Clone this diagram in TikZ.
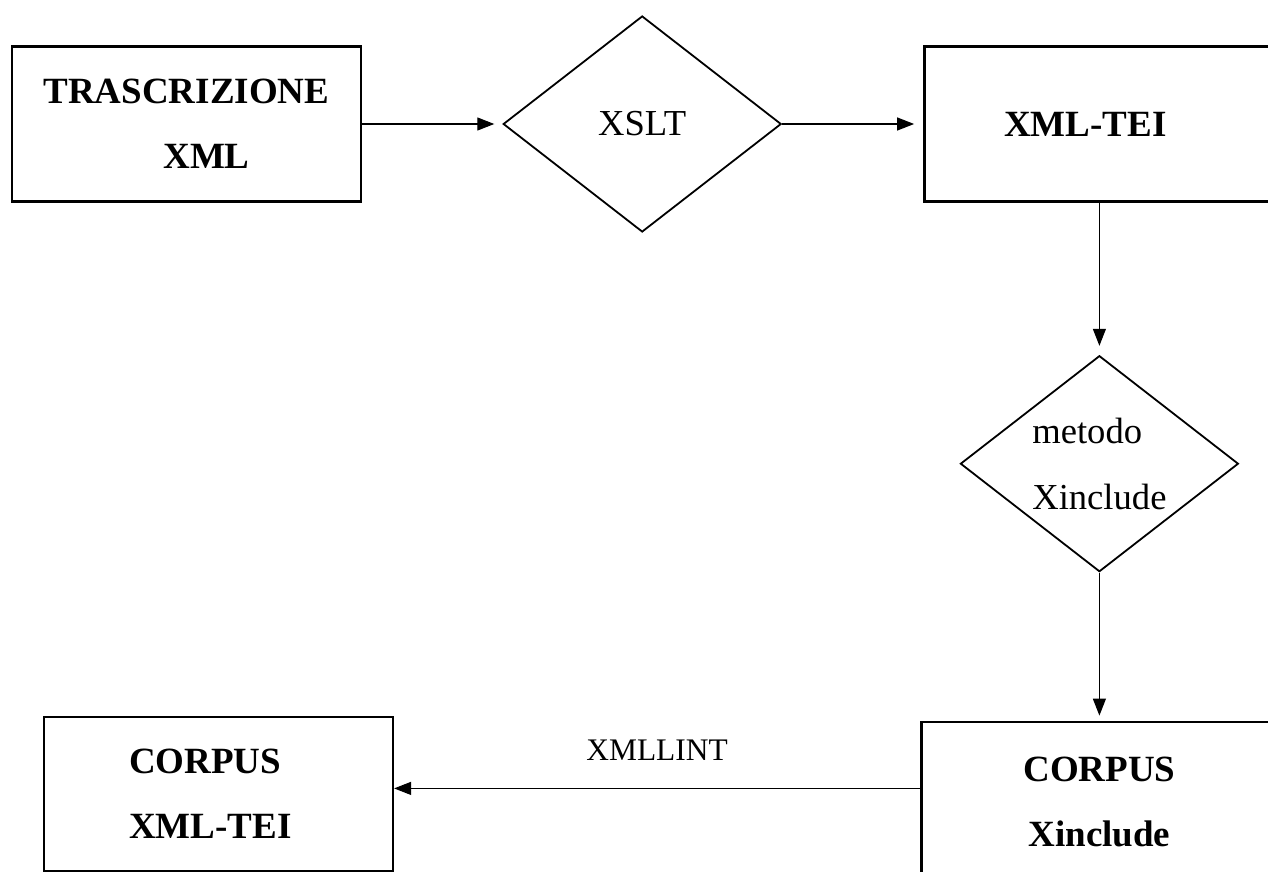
\documentclass[tikz,border=0pt]{standalone}
\usepackage{fontspec}
\setmainfont{Liberation Serif}
\usetikzlibrary{positioning,shapes.geometric,arrows.meta}

\begin{document}
\begin{tikzpicture}[
  node distance=70pt,
  mybox/.style={draw,line width=1.3pt,minimum width=174.5pt,minimum height=77.5pt,align=center,font=\fontsize{18.5pt}{32.5pt}\selectfont\bfseries},
  mydiamond/.style={draw,diamond,line width=0.9pt,aspect=1.29,inner sep=0pt,minimum width=139pt,minimum height=108pt,align=left,font=\fontsize{18.3pt}{33pt}\selectfont},
  myarrow/.style={-{Triangle[length=8.5pt,width=6.5pt]},line width=0.6pt}
]
\useasboundingbox (0,0) rectangle (634pt,-436pt);
\clip (0,0) rectangle (634pt,-436pt);
\node[mybox] (trascr) at (93.25pt,-62pt) {TRASCRIZIONE\\\rule{20pt}{0pt}XML};
\node[mydiamond,right=of trascr] (xslt) {XSLT};
\node[mybox,minimum width=175pt,right=70.5pt of xslt] (tei) {XML-TEI\rule{14pt}{0pt}};
\node[mydiamond,below=76pt of tei] (xinc) {metodo\\Xinclude};
\node[mybox,minimum width=178pt,minimum height=80pt,below=74pt of xinc] (corpxi) {CORPUS\\Xinclude};
\node[mybox,align=left,minimum height=77pt,left=263pt of corpxi,yshift=4pt] (corptei) {CORPUS\\XML-TEI\rule{8pt}{0pt}};
\path (trascr) edge[myarrow,shorten >=4pt] (xslt);
\path (xslt) edge[myarrow,shorten >=4.5pt] (tei);
\path (tei) edge[myarrow,shorten >=4.5pt] (xinc);
\path (xinc) edge[myarrow,shorten >=2.5pt] (corpxi);
\draw[myarrow] ([yshift=6.75pt]corpxi.west) -- ([yshift=6.75pt]corpxi.west -| corptei.east)
  node[midway,above=13.5pt,inner sep=0pt,font=\fontsize{15.7pt}{18pt}\selectfont] (lint) {XMLLINT};
\end{tikzpicture}
\end{document}
